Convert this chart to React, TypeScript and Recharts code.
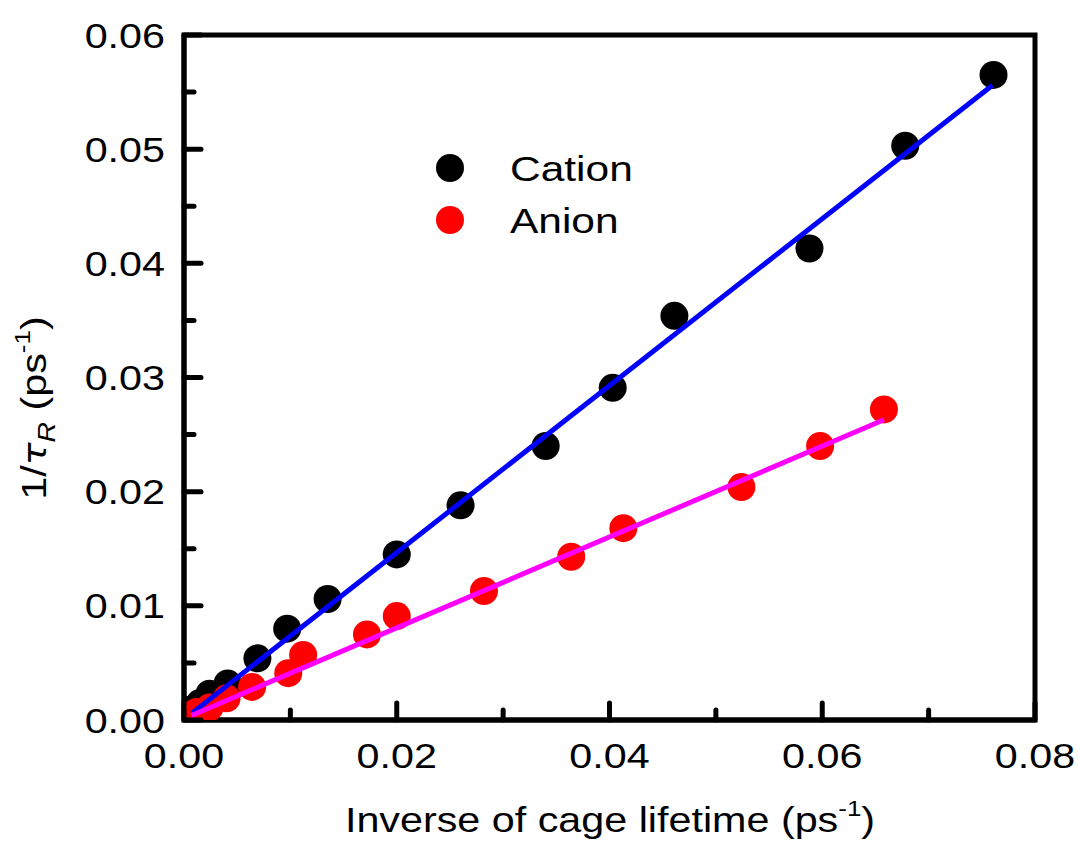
import React from 'react';
import {
  ScatterChart,
  Scatter,
  XAxis,
  YAxis,
  Legend,
  ReferenceArea,
} from 'recharts';

// measured data points (x = inverse cage lifetime, y = 1/tau_R), ps^-1
const cationX = [0.0761, 0.0678, 0.0588, 0.0461, 0.0403, 0.034, 0.026, 0.02, 0.0135, 0.0097, 0.0069, 0.0041, 0.0024, 0.0015, 0.0006];
const cationY = [0.0565, 0.0503, 0.0413, 0.0354, 0.0291, 0.024, 0.0188, 0.0145, 0.0106, 0.008, 0.0054, 0.0032, 0.0023, 0.0015, 0.0009];

const anionX = [0.0658, 0.0598, 0.0524, 0.0413, 0.0364, 0.0282, 0.02, 0.0172, 0.0112, 0.0098, 0.0064, 0.004, 0.0024, 0.0012, 0.0004];
const anionY = [0.0272, 0.024, 0.0204, 0.0168, 0.0143, 0.0113, 0.0091, 0.0075, 0.0057, 0.0041, 0.0029, 0.0019, 0.0011, 0.0007, 0.0004];

// linear fit endpoints
const cationFitX = [0.00075, 0.076];
const cationFitY = [0.0006, 0.0556];
const anionFitX = [0.0007, 0.0658];
const anionFitY = [0.0004, 0.0263];

const xTicks = [0, 0.01, 0.02, 0.03, 0.04, 0.05, 0.06, 0.07, 0.08];
const yTicks = [0, 0.005, 0.01, 0.015, 0.02, 0.025, 0.03, 0.035, 0.04, 0.045, 0.05, 0.055, 0.06];

const toPoints = (xs: number[], ys: number[]) => xs.map((x, i) => ({ x, y: ys[i] }));

const cationData = toPoints(cationX, cationY);
const anionData = toPoints(anionX, anionY);
const cationFit = toPoints(cationFitX, cationFitY);
const anionFit = toPoints(anionFitX, anionFitY);

const FONT = '"Liberation Sans", Arial, sans-serif';
const STRETCH = 1.18; // the original text is wider than plain Arial
const MAJOR = 17;
const MINOR = 10;

type Side = 'bottom' | 'top' | 'left' | 'right';

const Txt = ({ x, y, anchor, size, children, rotate }: any) => (
  <text
    x={0}
    y={0}
    transform={`translate(${x}, ${y})${rotate ? ' rotate(-90)' : ''} scale(${STRETCH}, 1)`}
    textAnchor={anchor}
    fontSize={size}
    fill="#000"
    fontFamily={FONT}
  >
    {children}
  </text>
);

const makeTick = (side: Side) => (props: any) => {
  const { x, y, payload, index } = props;
  const major = index % 2 === 0;
  const len = major ? MAJOR : MINOR;
  let x2 = x;
  let y2 = y;
  if (side === 'bottom') y2 = y - len;
  else if (side === 'top') y2 = y + len;
  else if (side === 'left') x2 = x + len;
  else x2 = x - len;
  let label = null;
  if (major && side === 'bottom') {
    label = <Txt x={x} y={y + 48} anchor="middle" size={35}>{Number(payload.value).toFixed(2)}</Txt>;
  } else if (major && side === 'left') {
    label = <Txt x={x - 19} y={y + 12.5} anchor="end" size={35}>{Number(payload.value).toFixed(2)}</Txt>;
  }
  return (
    <g>
      <line x1={x} y1={y} x2={x2} y2={y2} stroke="#000" strokeWidth={5} strokeLinecap="round" />
      {label}
    </g>
  );
};

const Dot = (color: string) => (props: any) => (
  <circle cx={props.cx} cy={props.cy} r={14} fill={color} />
);

const NoShape = () => <g />;

const XTitle = () => (
  <Txt x={610} y={832} anchor="middle" size={35}>
    Inverse of cage lifetime (ps
    <tspan fontSize={22} dy={-16}>-1</tspan>
    <tspan dy={16}>)</tspan>
  </Txt>
);

const YTitle = () => (
  <Txt x={46} y={408} anchor="middle" size={35} rotate>
    1/
    <tspan fontStyle="italic" fontFamily='"DejaVu Sans", sans-serif' fontSize={32}>τ</tspan>
    <tspan fontStyle="italic" fontSize={24} dy={9}>R</tspan>
    <tspan dy={-9}> (ps</tspan>
    <tspan fontSize={22} dy={-16}>-1</tspan>
    <tspan dy={16}>)</tspan>
  </Txt>
);

const LegendBox = () => (
  <svg width={260} height={110}>
    <circle cx={30} cy={28} r={14} fill="#000" />
    <Txt x={90} y={41} anchor="start" size={36}>Cation</Txt>
    <circle cx={30} cy={80} r={14} fill="#ff0000" />
    <Txt x={90} y={93} anchor="start" size={36}>Anion</Txt>
  </svg>
);

const axisLine = { stroke: '#000', strokeWidth: 5 };

export default function App() {
  return (
    <div style={{ position: 'absolute', left: 0, top: 0, width: 1078, height: 842, background: '#fff' }}>
      <ScatterChart width={1078} height={842} margin={{ top: 35, right: 43, left: 0, bottom: 0 }}>
        <XAxis
          xAxisId={0}
          type="number"
          dataKey="x"
          domain={[0, 0.08]}
          ticks={xTicks}
          interval={0}
          allowDataOverflow
          height={122}
          tickSize={0}
          tickMargin={0}
          tickLine={false}
          axisLine={axisLine}
          tick={makeTick('bottom')}
          label={{ content: XTitle }}
        />
        <XAxis
          xAxisId="top"
          orientation="top"
          type="number"
          dataKey="x"
          domain={[0, 0.08]}
          ticks={xTicks}
          interval={0}
          allowDataOverflow
          height={0}
          tickSize={0}
          tickMargin={0}
          tickLine={false}
          axisLine={axisLine}
          tick={makeTick('top')}
        />
        <YAxis
          yAxisId={0}
          type="number"
          dataKey="y"
          domain={[0, 0.06]}
          ticks={yTicks}
          interval={0}
          allowDataOverflow
          width={184}
          tickSize={0}
          tickMargin={0}
          tickLine={false}
          axisLine={axisLine}
          tick={makeTick('left')}
          label={{ content: YTitle }}
        />
        <YAxis
          yAxisId="right"
          orientation="right"
          type="number"
          dataKey="y"
          domain={[0, 0.06]}
          ticks={yTicks}
          interval={0}
          allowDataOverflow
          width={0}
          tickSize={0}
          tickMargin={0}
          tickLine={false}
          axisLine={axisLine}
          tick={makeTick('right')}
        />
        <ReferenceArea
          x1={0}
          x2={0.08}
          y1={0}
          y2={0.06}
          fill="none"
          fillOpacity={0}
          stroke="#000"
          strokeWidth={5}
          strokeOpacity={1}
          ifOverflow="visible"
        />
        <Legend
          layout="vertical"
          align="center"
          verticalAlign="middle"
          wrapperStyle={{ position: 'absolute', left: 420, top: 140, width: 260, height: 110 }}
          content={LegendBox}
        />
        <Scatter name="Cation" data={cationData} fill="#000" shape={Dot('#000')} isAnimationActive={false} />
        <Scatter name="Anion" data={anionData} fill="#ff0000" shape={Dot('#ff0000')} isAnimationActive={false} />
        <Scatter
          name="Cation fit"
          data={cationFit}
          line={{ stroke: '#0000ff', strokeWidth: 5 }}
          shape={NoShape}
          legendType="none"
          isAnimationActive={false}
        />
        <Scatter
          name="Anion fit"
          data={anionFit}
          line={{ stroke: '#ff00ff', strokeWidth: 5 }}
          shape={NoShape}
          legendType="none"
          isAnimationActive={false}
        />
      </ScatterChart>
    </div>
  );
}
